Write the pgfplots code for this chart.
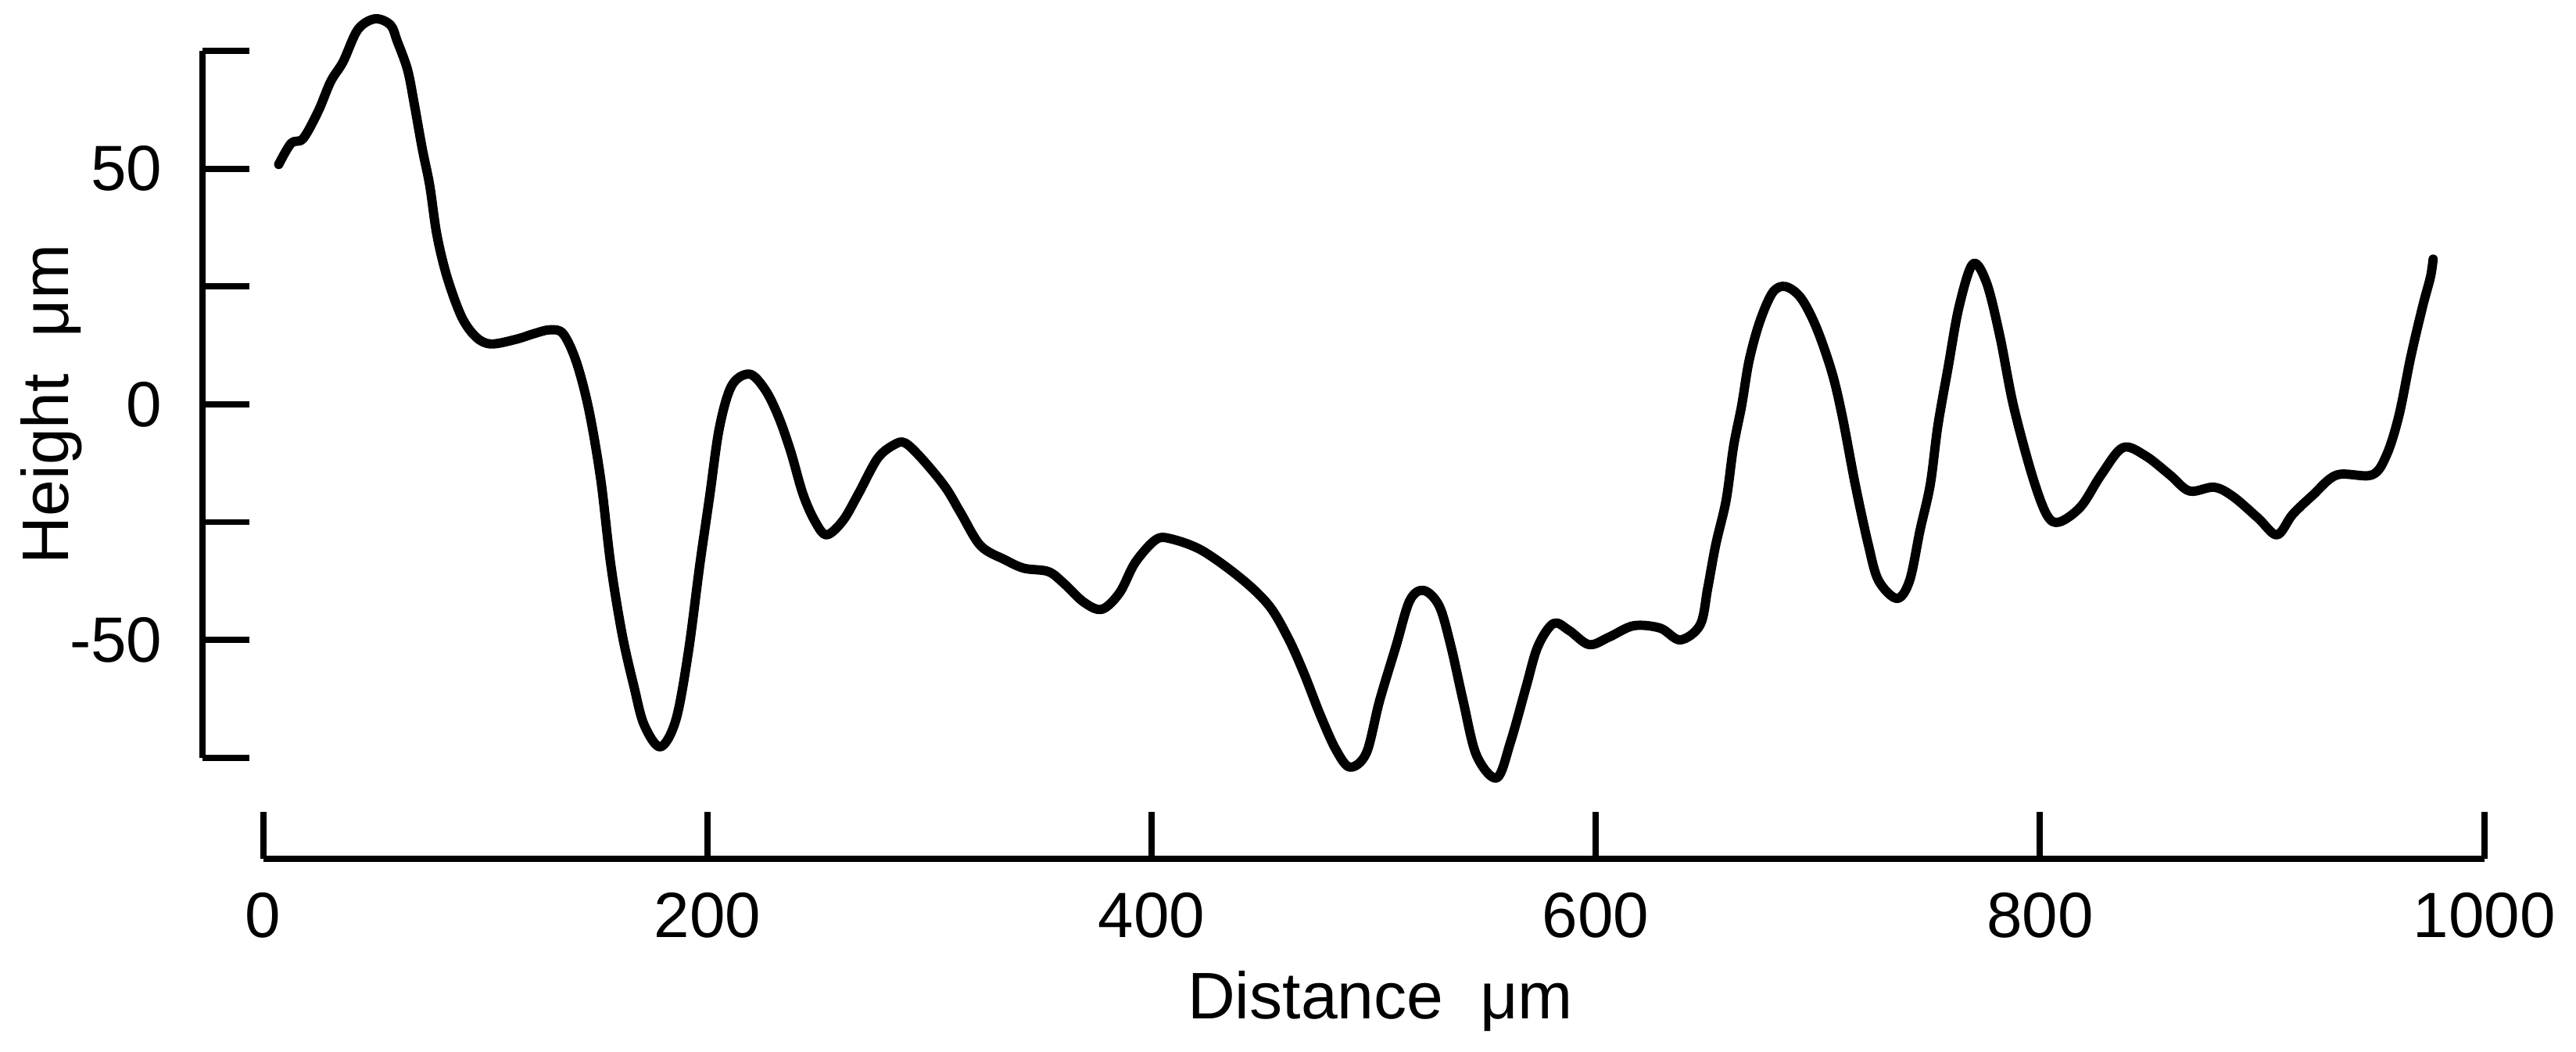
\documentclass[border=0pt]{standalone}
\usepackage{pgfplots}
\pgfplotsset{compat=1.18}
\usepackage{fontspec}
\setmainfont{Liberation Sans}
\pgfplotstableread{
x y
7 50.9
12.6 55.4
18 56.4
24.8 62.2
30.4 68.5
36 72.7
42.6 79.5
50.3 81.8
57.3 80.5
60.4 77
65 71
68 63.8
71.6 54.3
75 46.4
78.2 36
82.8 27
89.4 18.5
96 14.2
102.7 12.8
113.9 13.8
122 15
129 15.8
135 15
141 9
146.7 -1.3
152 -16
156.5 -34
161.7 -49
167 -60
171.5 -68
178.8 -72.7
185.8 -67
191.4 -52.7
196.6 -34
201 -19.6
205.4 -5
211 4
219 6.4
226 3.1
232 -2.6
237.5 -10
243 -19
248.3 -24.7
253.6 -27.7
261 -24.7
268 -19
276.6 -11.5
284 -8.6
289 -8.2
296.5 -11.5
307 -17.5
314 -23
323 -30
334 -33
342.6 -34.8
353.5 -35.5
360.5 -38
369.5 -42
377.6 -43.5
385.6 -40
392.6 -33.6
401.7 -28.8
408.3 -28.5
422.6 -31
440.4 -37
453 -42.8
461.7 -49.8
468.7 -57.2
476 -66
483 -73.3
489.3 -77
496.7 -74
502.6 -63
510 -51.4
516.2 -41.7
522.5 -39.5
529.5 -42.8
534.8 -51.4
540.3 -63
546.3 -74.5
555.4 -79.3
561.6 -71.7
568.6 -60
573.9 -51.4
581 -46.5
588 -48
597 -51
606 -49.4
617 -47
629 -47.5
638 -50
647 -46.8
650.4 -39
654 -29.8
658.7 -20.3
662 -9
665.7 -0.2
669 9.2
673.8 17.5
679.6 23.7
685.3 25
692.3 22.6
699.3 16.3
706.3 6.8
711 -2.6
716.8 -17
722.7 -29.8
727.3 -37.4
735.6 -41.2
741.3 -37.4
746 -26.7
750.6 -17
754 -4.6
758.7 8
763.5 20.6
769.8 29.8
776 25.7
782 14.3
788 -0.2
796.4 -15
803 -23.4
808.6 -25
818.4 -21.7
827.5 -15
837.3 -9.2
847.4 -10.9
858.5 -15
867.3 -18.4
878.4 -17.6
887 -19.6
898.3 -24.2
906.7 -27.7
913.7 -23.4
922.8 -19.3
933.6 -15
949.4 -15
956 -10.8
961.6 -2.4
967 10.2
972.4 21
975.8 27
977 30.8
}\profile
\begin{document}
\begin{tikzpicture}
\begin{axis}[
  scale only axis,
  width=357.75pt, height=113.8pt,
  xmin=0, xmax=1000, ymin=-75, ymax=75,
  clip=false,
  axis x line=bottom, axis y line=left,
  axis x line shift=16.25pt,
  axis y line shift=9.75pt,
  axis line style={-, line width=1pt, black},
  every tick/.style={black, line width=1pt},
  major tick length=7.5pt,
  xtick align=inside, ytick align=inside,
  xtick={0,200,400,600,800,1000},
  xticklabels={0,200,400,600,800,1000},
  ytick={-75,-50,-25,0,25,50,75},
  yticklabels={,-50,,0,,50,},
  tick label style={font=\fontsize{10.3}{12}\selectfont},
  xticklabel style={yshift=-2pt},
  yticklabel style={xshift=-3pt},
  xlabel={Distance\ \ μm},
  ylabel={Height\ \ μm},
  label style={font=\fontsize{10.6}{12}\selectfont},
  xlabel style={at={(axis description cs:0.503,-0.369)}, anchor=base},
  ylabel style={at={(axis description cs:-0.0877,0.5)}, anchor=base, rotate=0},
  /pgf/number format/assume math mode=true,
]
\addplot[black, line width=1.5pt, line join=round, line cap=round, smooth, tension=0.55] table[x=x,y=y] {\profile};
\path (axis cs:-115.6,-135.7) rectangle (axis cs:1035.3,85.8);
\end{axis}
\end{tikzpicture}
\end{document}
